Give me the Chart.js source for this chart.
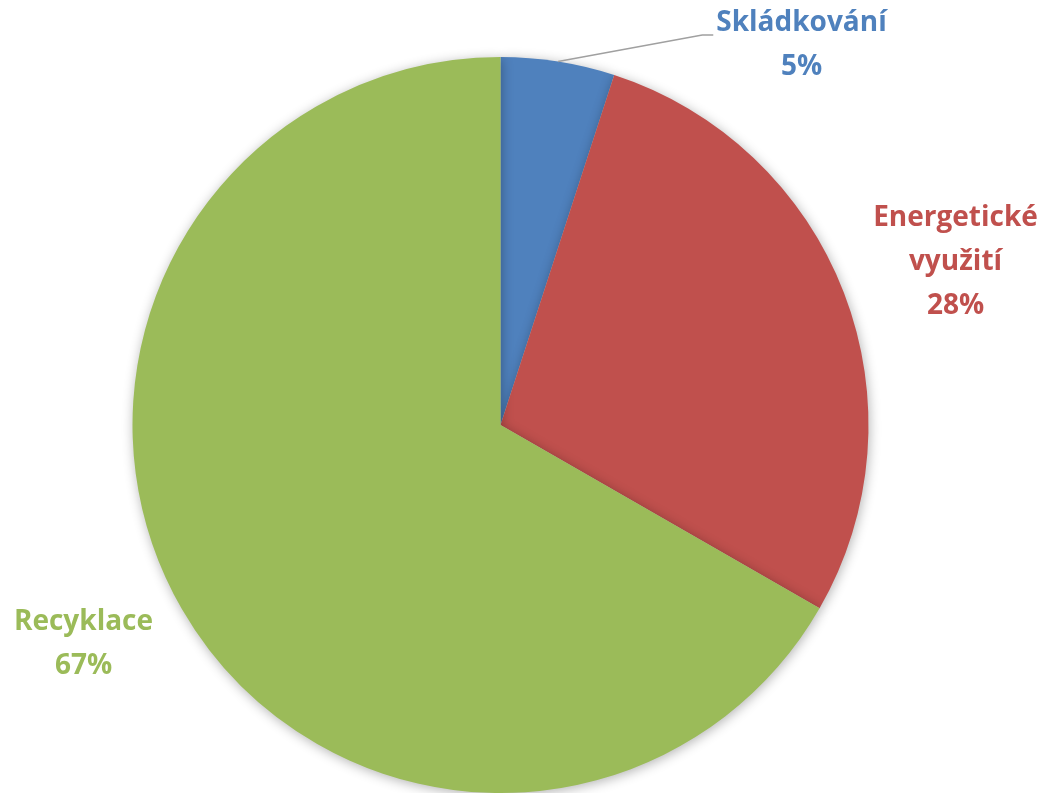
<!DOCTYPE html>
<html>
<head>
<meta charset="utf-8">
<script src="https://cdn.jsdelivr.net/npm/chart.js@4.4.1/dist/chart.umd.min.js"></script>
<style>
  html, body { margin: 0; padding: 0; background: #fff; }
  #wrap { width: 1046px; height: 793px; position: relative; }
</style>
</head>
<body>
<div id="wrap"><canvas id="graf"></canvas></div>
<script>
const kategorie = ['Skládkování', 'Energetické využití', 'Recyklace'];
const hodnoty = [5, 28.3, 66.7];
const barvy = ['#4F81BD', '#C0504D', '#9BBB59'];
// radky popisku (zalomeni jako v originale)
const popisky = [['Skládkování'], ['Energetické', 'využití'], ['Recyklace']];
// posun stredu popisku od stredu kolace (px)
const posunPopisku = [[301, -380], [455, -163], [-417, 219]];

const FONT = 'bold 28px "Open Sans", Calibri, "DejaVu Sans", sans-serif';
const RADEK = 44;

// jemny stin pod kolaci
const stinPlugin = {
  id: 'stin',
  beforeDatasetsDraw(chart) {
    const ctx = chart.ctx;
    ctx.save();
    ctx.shadowColor = 'rgba(0,0,0,0.3)';
    ctx.shadowBlur = 12;
    ctx.shadowOffsetX = 1;
    ctx.shadowOffsetY = 2;
  },
  afterDatasetsDraw(chart) {
    chart.ctx.restore();
  }
};

// popisky s procenty + vodici cara u malyho dilku
const popiskyPlugin = {
  id: 'popisky',
  afterDatasetsDraw(chart) {
    const ctx = chart.ctx;
    const meta = chart.getDatasetMeta(0);
    const soucet = hodnoty.reduce((a, b) => a + b, 0);
    ctx.save();
    ctx.font = FONT;
    ctx.textAlign = 'center';
    ctx.textBaseline = 'middle';
    meta.data.forEach((arc, i) => {
      const p = arc.getProps(['x', 'y', 'startAngle', 'endAngle', 'outerRadius'], true);
      const radky = popisky[i].concat([Math.round(hodnoty[i] / soucet * 100) + '%']);
      const cx = p.x + posunPopisku[i][0];
      const cy = p.y + posunPopisku[i][1];
      const y0 = cy - (radky.length - 1) * RADEK / 2;

      if (i === 0) {
        // vodici cara od okraje dilku k popisku
        const uhel = (p.startAngle + p.endAngle) / 2;
        const ox = p.x + Math.cos(uhel) * p.outerRadius;
        const oy = p.y + Math.sin(uhel) * p.outerRadius;
        const tw = ctx.measureText(radky[0]).width;
        const lx = cx - tw / 2 - 3;
        ctx.strokeStyle = '#A0A0A0';
        ctx.lineWidth = 1.5;
        ctx.beginPath();
        ctx.moveTo(ox, oy);
        ctx.lineTo(lx - 11, y0 + 12);
        ctx.lineTo(lx, y0 + 12);
        ctx.stroke();
      }

      ctx.fillStyle = barvy[i];
      radky.forEach((t, j) => ctx.fillText(t, cx, y0 + j * RADEK));
    });
    ctx.restore();
  }
};

document.addEventListener('DOMContentLoaded', function() {
  const ctx = document.getElementById('graf').getContext('2d');
  new Chart(ctx, {
    type: 'pie',
    data: {
      labels: kategorie,
      datasets: [{
        data: hodnoty,
        backgroundColor: barvy,
        borderWidth: 0
      }]
    },
    options: {
      responsive: true,
      maintainAspectRatio: false,
      animation: false,
      layout: { padding: { top: 57, bottom: 0, left: 132, right: 177 } },
      plugins: {
        legend: { display: false },
        tooltip: { enabled: false }
      }
    },
    plugins: [stinPlugin, popiskyPlugin]
  });
});
</script>
</body>
</html>
